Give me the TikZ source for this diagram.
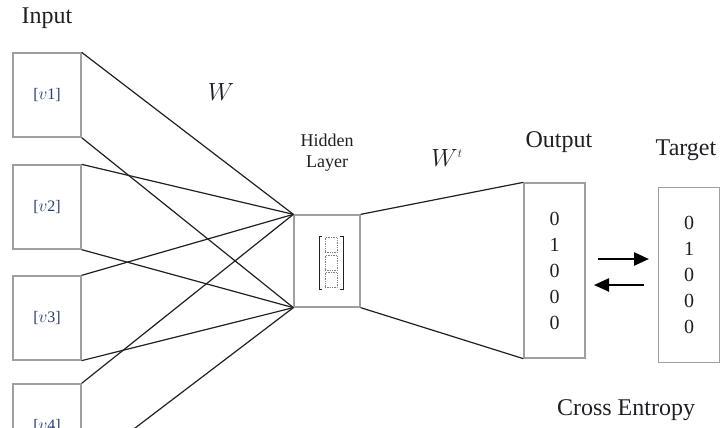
\documentclass[tikz,border=0pt]{standalone}
\usepackage{fontspec}
\setmainfont{Liberation Serif}
\usetikzlibrary{arrows}
\usetikzlibrary{arrows.meta}
\definecolor{vtext}{rgb}{0.15,0.25,0.45}
\definecolor{ink}{rgb}{0.12,0.12,0.15}
\tikzstyle{unit} = [rectangle,draw=gray!75,line width=1.3pt,fill=white,
inner sep=0pt, text=ink]
\tikzstyle{inp} = [unit,minimum width=68pt,minimum height=84pt,
font=\fontsize{16}{16}\selectfont, text=vtext]
\tikzstyle{hid} = [unit,minimum width=66pt,minimum height=92pt]
\tikzstyle{vec} = [unit,minimum width=61pt,minimum height=175pt,align=center,
font=\fontsize{20}{26}\selectfont]
\tikzstyle{caption} = [font=\fontsize{24}{26}\selectfont, text=ink]
\tikzstyle{small} = [font=\fontsize{18}{21}\selectfont, text=ink, align=center]
\tikzstyle{swap} = [-{Triangle[length=15pt,width=13pt]},line width=2.4pt,black]
\newcommand{\wire}[3][]{ %
  % join every anchor in #2 to every anchor in #3
  \foreach \x in {#2} { %
    \foreach \y in {#3} { %
      \draw[ink, line width=1.2pt, #1] (\x) -- (\y) ;%
    } ;
  } ;
}

\begin{document}
\begin{tikzpicture}[x=1pt,y=-1pt]
  \useasboundingbox (0,0) rectangle (721,428);
  \clip (0,0) rectangle (721,428);
  \node[caption](input) at (47,18) {Input};
  \node[inp](v1) at (47,95) {[$v$1]};
  \node[inp](v2) at (47,207) {[$v$2]};
  \node[inp](v3) at (47,318) {[$v$3]};
  \node[inp](v4) at (47,426) {[$v$4]};
  \node[hid](h) at (327,261) {};
  \node[small](hlab) at (327,153) {Hidden\\Layer};
  \node[caption](w) at (221,92) {$W$};
  \node[caption](wt) at (447,158) {$W^{\scriptscriptstyle t}$};
  \node[vec](out) at (554.5,270.5) {0\\1\\0\\0\\0};
  \node[caption](outlab) at (559,142) {Output};
  \node[vec](tgt) at (689,275) {0\\1\\0\\0\\0};
  \node[caption](tgtlab) at (686,150) {Target};
  \node[caption](ce) at (626,410) {Cross Entropy};
  % hidden vector
  \foreach \y/\n in {245/c1,263/c2,280/c3}
    \node[draw=gray,densely dotted,line width=0.7pt,minimum width=12pt,
      minimum height=15pt,inner sep=0pt](\n) at (331,\y) {};
  \draw[ink,line width=0.9pt] (322,236) -- (319,236) -- (319,289) -- (322,289);
  \draw[ink,line width=0.9pt] (340,236) -- (343,236) -- (343,289) -- (340,289);
  % connections
  \wire{v1.north east,v2.north east,v3.north east,v4.north east}{h.north west};
  \wire{v1.south east,v2.south east,v3.south east,v4.south east}{h.south west};
  \wire{h.north east}{out.north west};
  \wire{h.south east}{out.south west};
  % exchange arrows
  \coordinate (a1) at (598,259);
  \coordinate (a2) at (649,259);
  \coordinate (b1) at (644,285);
  \coordinate (b2) at (594,285);
  \draw[swap] (a1) -- (a2);
  \draw[swap] (b1) -- (b2);
\end{tikzpicture}
\end{document}
